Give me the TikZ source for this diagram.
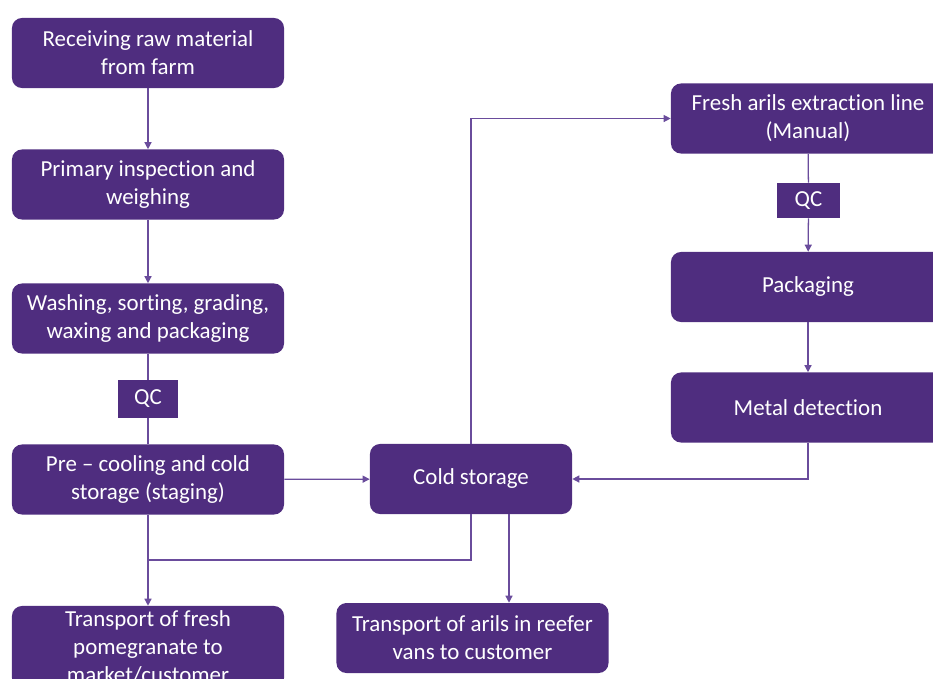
\documentclass[tikz,border=0pt]{standalone}
\usepackage{fontspec}
\setmainfont[Ligatures={NoCommon}]{Carlito}
\usetikzlibrary{arrows.meta,calc}
\definecolor{procpurple}{HTML}{4F2D7F}
\definecolor{linkpurple}{HTML}{6A4C9C}
\tikzset{
  box/.style={rectangle,rounded corners=0.25cm,fill=procpurple,text=white,align=center,
    minimum width=6.8cm,minimum height=1.75cm,inner sep=2pt,font=\fontsize{16.3}{20}\selectfont},
  qcbox/.style={rectangle,fill=procpurple,text=white,minimum width=1.5cm,minimum height=0.93cm,
    inner sep=1pt,font=\fontsize{16.3}{20}\selectfont},
  flow/.style={draw=linkpurple,line width=0.9pt},
  flowarrow/.style={flow,-{Triangle[length=5pt,width=5pt]}}
}
\begin{document}
\begin{tikzpicture}[x=0.025cm,y=-0.025cm]
\clip (0,0) rectangle (933,678);
\node[box] (receive) at (148,53) {Receiving raw material\\from farm};
\node[box] (inspect) at (148,184.5) {Primary inspection and\\weighing};
\node[box] (wash) at (148,318.5) {Washing, sorting, grading,\\waxing and packaging};
\node[qcbox] (qcleft) at (148,399) {QC};
\node[box] (precool) at (148,479.5) {Pre -- cooling and cold\\storage (staging)};
\node[box,minimum width=5.05cm] (cold) at (471,479) {Cold storage};
\node[box,minimum width=6.85cm] (extract) at (808,118.5) {Fresh arils extraction line\\(Manual)};
\node[qcbox,minimum width=1.58cm,minimum height=0.88cm] (qcright) at (808.5,200.5) {QC};
\node[box,minimum width=6.85cm] (pack) at (808,287) {Packaging};
\node[box,minimum width=6.85cm] (metal) at (808,407.5) {Metal detection};
\node[box,minimum height=2.05cm] (freshtr) at (148,647) {Transport of fresh\\pomegranate to\\market/customer};
\node[box] (arilstr) at (472.5,638) {Transport of arils in reefer\\vans to customer};
\coordinate (join) at (148,560);
\coordinate (coldout) at (509,514);

\draw[flowarrow] (receive) -- (inspect);
\draw[flowarrow] (inspect) -- (wash);
\draw[flow] (wash) -- (qcleft) -- (precool);
\draw[flowarrow] (precool) -- (cold);
\draw[flowarrow] (cold.north) |- (extract.west);
\draw[flow] (extract) -- (qcright);
\draw[flowarrow] (qcright) -- (pack);
\draw[flowarrow] (pack) -- (metal);
\draw[flowarrow] (metal.south) |- (cold.east);
\draw[flow] (cold.south) |- (join);
\draw[flowarrow] (precool) -- (freshtr);
\draw[flowarrow] (coldout) -- (coldout |- arilstr.north);
\end{tikzpicture}
\end{document}
